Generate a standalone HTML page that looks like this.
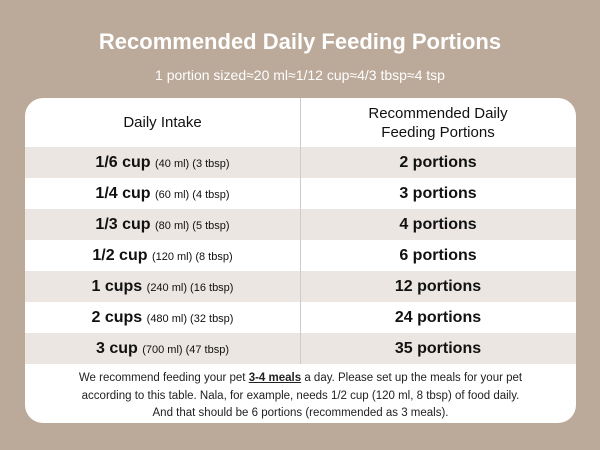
<!DOCTYPE html>
<html><head><style>
body{margin:0;width:600px;height:450px;background:#bba999;font-family:"Liberation Sans",sans-serif;position:relative;overflow:hidden}
.t{position:absolute;left:0;width:600px;text-align:center;color:#fff}
.card{position:absolute;left:25px;top:98px;width:551px;height:325px;background:#fff;border-radius:18px;overflow:hidden}
.row{position:absolute;left:0;width:551px;height:31px;display:flex;align-items:center;color:#111}
.row.s{background:#ebe6e2}
.c1{width:275px;text-align:center;font-size:16px;font-weight:bold}
.c2{width:276px;text-align:center;font-size:16px;font-weight:bold}
.c1 small{font-size:11px;font-weight:normal}
.div{position:absolute;left:275px;top:0;width:1px;height:266px;background:#ccc}
.foot{position:absolute;top:272px;left:0;width:551px;text-align:center;font-size:11.5px;line-height:17.5px;color:#222}
</style></head><body>
<div class="t" style="top:29px;font-size:22px;font-weight:bold">Recommended Daily Feeding Portions</div>
<div class="t" style="top:67px;font-size:14px">1 portion sized≈20 ml≈1/12 cup≈4/3 tbsp≈4 tsp</div>
<div class="card">
<div class="row" style="top:0;height:49px"><div class="c1" style="font-size:15px;font-weight:normal">Daily Intake</div><div class="c2" style="font-size:15px;line-height:19px;font-weight:normal">Recommended Daily<br>Feeding Portions</div></div>
<div class="row s" style="top:49px"><div class="c1">1/6 cup <small>(40 ml) (3 tbsp)</small></div><div class="c2">2 portions</div></div>
<div class="row" style="top:80px"><div class="c1">1/4 cup <small>(60 ml) (4 tbsp)</small></div><div class="c2">3 portions</div></div>
<div class="row s" style="top:111px"><div class="c1">1/3 cup <small>(80 ml) (5 tbsp)</small></div><div class="c2">4 portions</div></div>
<div class="row" style="top:142px"><div class="c1">1/2 cup <small>(120 ml) (8 tbsp)</small></div><div class="c2">6 portions</div></div>
<div class="row s" style="top:173px"><div class="c1">1 cups <small>(240 ml) (16 tbsp)</small></div><div class="c2">12 portions</div></div>
<div class="row" style="top:204px"><div class="c1">2 cups <small>(480 ml) (32 tbsp)</small></div><div class="c2">24 portions</div></div>
<div class="row s" style="top:235px"><div class="c1">3 cup <small>(700 ml) (47 tbsp)</small></div><div class="c2">35 portions</div></div>
<div class="div"></div>
<div class="foot">We recommend feeding your pet <b><u>3-4 meals</u></b> a day. Please set up the meals for your pet<br>according to this table. Nala, for example, needs 1/2 cup (120 ml, 8 tbsp) of food daily.<br>And that should be 6 portions (recommended as 3 meals).</div>
</div>
</body></html>
